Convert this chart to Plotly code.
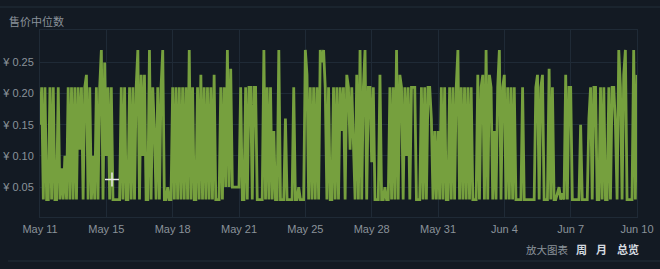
import pandas as pd
import plotly.graph_objects as go

# ---- data (median sale price, every 2 hours, May 11 -> Jun 10) ----
prices = [
    0.15, 0.21, 0.03, 0.21, 0.03, 0.03, 0.21, 0.03, 0.21, 0.03,
    0.03, 0.21, 0.03, 0.08, 0.03, 0.10, 0.03, 0.21, 0.03, 0.21,
    0.03, 0.21, 0.03, 0.21, 0.11, 0.21, 0.03, 0.21, 0.23, 0.03,
    0.21, 0.03, 0.10, 0.03, 0.21, 0.03, 0.21, 0.27, 0.03, 0.25,
    0.10, 0.21, 0.03, 0.21, 0.03, 0.03, 0.03, 0.03, 0.03, 0.21,
    0.03, 0.21, 0.03, 0.03, 0.21, 0.03, 0.21, 0.03, 0.21, 0.27,
    0.03, 0.23, 0.10, 0.23, 0.03, 0.03, 0.27, 0.03, 0.21, 0.14,
    0.03, 0.21, 0.03, 0.21, 0.27, 0.03, 0.03, 0.05, 0.03, 0.03,
    0.21, 0.03, 0.21, 0.03, 0.21, 0.03, 0.21, 0.03, 0.21, 0.03,
    0.27, 0.03, 0.21, 0.03, 0.03, 0.21, 0.03, 0.23, 0.03, 0.21,
    0.03, 0.21, 0.03, 0.21, 0.03, 0.23, 0.03, 0.03, 0.03, 0.21,
    0.03, 0.21, 0.05, 0.27, 0.05, 0.24, 0.05, 0.05, 0.05, 0.05,
    0.05, 0.21, 0.03, 0.03, 0.21, 0.03, 0.21, 0.21, 0.03, 0.21,
    0.21, 0.03, 0.03, 0.03, 0.03, 0.27, 0.03, 0.21, 0.03, 0.21,
    0.03, 0.14, 0.03, 0.03, 0.27, 0.03, 0.03, 0.03, 0.16, 0.03,
    0.03, 0.03, 0.03, 0.21, 0.03, 0.03, 0.05, 0.03, 0.03, 0.03,
    0.27, 0.23, 0.03, 0.21, 0.03, 0.21, 0.03, 0.21, 0.03, 0.27,
    0.25, 0.27, 0.21, 0.03, 0.21, 0.03, 0.03, 0.21, 0.03, 0.21,
    0.03, 0.21, 0.14, 0.21, 0.03, 0.23, 0.21, 0.11, 0.21, 0.11,
    0.03, 0.23, 0.03, 0.27, 0.03, 0.21, 0.27, 0.03, 0.21, 0.21,
    0.09, 0.21, 0.03, 0.03, 0.03, 0.23, 0.03, 0.03, 0.05, 0.03,
    0.03, 0.21, 0.03, 0.21, 0.03, 0.27, 0.03, 0.23, 0.21, 0.03,
    0.21, 0.10, 0.21, 0.03, 0.21, 0.21, 0.21, 0.03, 0.03, 0.03,
    0.21, 0.03, 0.21, 0.03, 0.21, 0.21, 0.16, 0.03, 0.14, 0.03,
    0.14, 0.03, 0.21, 0.03, 0.21, 0.03, 0.03, 0.21, 0.03, 0.21,
    0.03, 0.21, 0.27, 0.03, 0.21, 0.03, 0.21, 0.03, 0.21, 0.03,
    0.21, 0.03, 0.03, 0.03, 0.23, 0.03, 0.21, 0.23, 0.03, 0.27,
    0.03, 0.23, 0.21, 0.03, 0.14, 0.03, 0.21, 0.27, 0.03, 0.21,
    0.23, 0.03, 0.21, 0.03, 0.21, 0.03, 0.21, 0.03, 0.03, 0.03,
    0.03, 0.21, 0.03, 0.03, 0.03, 0.03, 0.03, 0.03, 0.03, 0.21,
    0.23, 0.03, 0.21, 0.23, 0.03, 0.03, 0.03, 0.24, 0.03, 0.21,
    0.03, 0.03, 0.04, 0.05, 0.03, 0.04, 0.03, 0.23, 0.03, 0.21,
    0.21, 0.03, 0.03, 0.03, 0.03, 0.03, 0.15, 0.03, 0.03, 0.03,
    0.03, 0.16, 0.21, 0.03, 0.21, 0.21, 0.03, 0.03, 0.21, 0.03,
    0.21, 0.03, 0.03, 0.21, 0.03, 0.21, 0.21, 0.15, 0.03, 0.27,
    0.21, 0.03, 0.23, 0.27, 0.03, 0.03, 0.03, 0.03, 0.27, 0.03, 0.23,
]
start_date = "2024-05-11"
end_date = "2024-06-10"
x_tick_labels = ["May 11", "May 15", "May 18", "May 21", "May 25",
                 "May 28", "May 31", "Jun 4", "Jun 7", "Jun 10"]
y_tick_values = [0.05, 0.10, 0.15, 0.20, 0.25]
y_tick_labels = ["¥ 0.05", "¥ 0.10", "¥ 0.15", "¥ 0.20", "¥ 0.25"]
title_text = "售价中位数"
zoom_label = "放大图表"
zoom_buttons = ["周", "月", "总览"]

dates = pd.date_range(start_date, end_date, periods=len(prices))
x_ticks = pd.date_range(start_date, end_date, periods=len(x_tick_labels))

# ---- layout geometry (pixels) ----
W, H = 660, 269
L, R, T, B = 40, 23, 30, 52
pw, ph = W - L - R, H - T - B

def px_x(px):
    return (px - L) / pw

def px_y(py):
    return (H - B - py) / ph

BG = "#131a23"
GRID = "#1f2a36"
TXT = "#8a929a"
GREEN = "#76a03e"

fig = go.Figure()
fig.add_trace(go.Scatter(
    x=dates, y=prices, mode="lines",
    line=dict(color=GREEN, width=2.8),
    hoverinfo="skip", showlegend=False,
))

fig.update_layout(
    width=W, height=H,
    margin=dict(l=L, r=R, t=T, b=B, pad=0, autoexpand=False),
    paper_bgcolor=BG, plot_bgcolor=BG,
    font=dict(family="Arial, Liberation Sans, sans-serif", size=11, color=TXT),
    xaxis=dict(
        range=[dates[0], dates[-1]], automargin=False,
        tickmode="array", tickvals=list(x_ticks), ticktext=x_tick_labels,
        showgrid=True, gridcolor=GRID, gridwidth=1,
        showline=True, linecolor=GRID, mirror=True,
        zeroline=False, ticks="", ticklabelstandoff=2,
        tickfont=dict(size=11, color=TXT),
    ),
    yaxis=dict(
        range=[0.002, 0.302], automargin=False,
        tickmode="array", tickvals=y_tick_values, ticktext=y_tick_labels,
        showgrid=True, gridcolor=GRID, gridwidth=1,
        showline=True, linecolor=GRID, mirror=True,
        zeroline=False, ticks="", ticklabelstandoff=3,
        tickfont=dict(size=11, color=TXT),
    ),
)

# separators
fig.add_shape(type="line", xref="paper", yref="paper",
              x0=px_x(0), x1=px_x(W), y0=px_y(7), y1=px_y(7),
              line=dict(color="#1e2833", width=1.5))
fig.add_shape(type="line", xref="paper", yref="paper",
              x0=px_x(8), x1=px_x(W), y0=px_y(261), y1=px_y(261),
              line=dict(color="#1e2833", width=1.5))

# title
fig.add_annotation(text=title_text, xref="paper", yref="paper",
                   x=px_x(7), y=px_y(20.5), xanchor="left", yanchor="middle",
                   showarrow=False,
                   font=dict(family="Noto Sans CJK SC", size=11, color=TXT))

# bottom-right zoom controls
fig.add_annotation(text=zoom_label, xref="paper", yref="paper",
                   x=px_x(571), y=px_y(249), xanchor="right", yanchor="middle",
                   showarrow=False,
                   font=dict(family="Noto Sans CJK SC", size=10.5, color=TXT))
for label, cx in zip(zoom_buttons, [581.5, 601, 627.5]):
    fig.add_annotation(text="<b>" + label + "</b>", xref="paper", yref="paper",
                       x=px_x(cx), y=px_y(249), xanchor="center", yanchor="middle",
                       showarrow=False,
                       font=dict(family="Noto Sans CJK SC", size=11, color="#d6dbe0"))

# cursor crosshair
fig.add_shape(type="line", xref="paper", yref="paper",
              x0=px_x(105), x1=px_x(119), y0=px_y(179.5), y1=px_y(179.5),
              line=dict(color="#e8e8e8", width=1.5))
fig.add_shape(type="line", xref="paper", yref="paper",
              x0=px_x(112), x1=px_x(112), y0=px_y(172.5), y1=px_y(186.5),
              line=dict(color="#e8e8e8", width=1.5))

fig.write_html("out.html")
